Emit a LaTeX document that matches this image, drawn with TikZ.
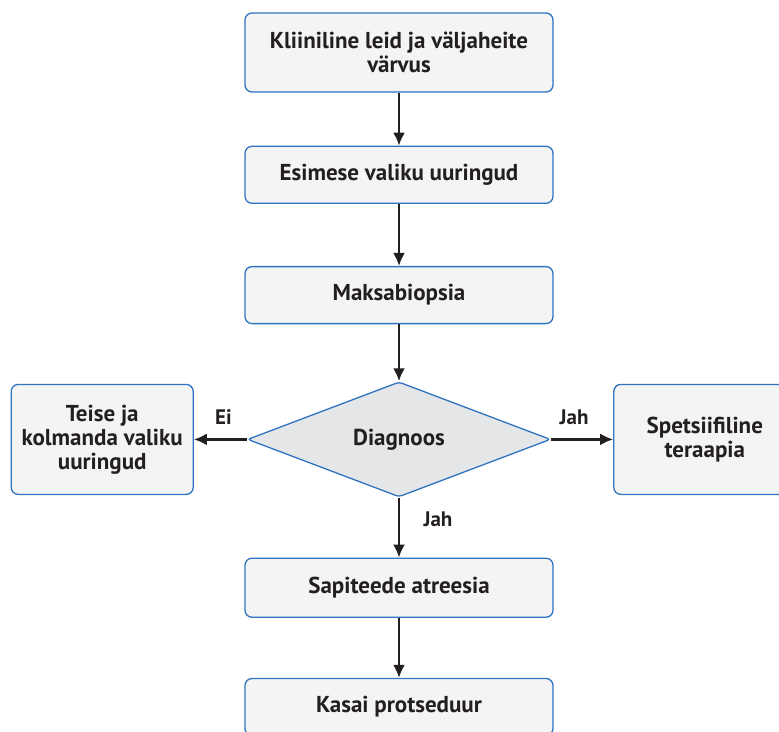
\documentclass[tikz,border=0pt]{standalone}
\usepackage{fontspec}
\setmainfont{PT Sans}
\usepackage{xcolor}
\usetikzlibrary{arrows.meta,positioning,shapes.geometric}

\definecolor{boxblue}{HTML}{2F74C0}
\definecolor{boxgray}{HTML}{F4F4F5}
\definecolor{diagray}{HTML}{E5E6E8}
\definecolor{ink}{HTML}{231F20}

\begin{document}
\begin{tikzpicture}[
    x=1pt,y=1pt,
    node distance=58pt,
    every node/.style={text=ink,font=\fontsize{23}{24}\selectfont\bfseries},
    box/.style={draw=boxblue,line width=1.3pt,fill=boxgray,rounded corners=7pt,
                align=center,minimum width=308pt,minimum height=57pt},
    side/.style={box,minimum width=182pt,minimum height=110pt},
    dec/.style={diamond,draw=boxblue,line width=1.3pt,fill=diagray,
                rounded corners=3pt,inner sep=0pt,
                minimum width=303pt,minimum height=115pt},
    lbl/.style={font=\fontsize{21}{22}\selectfont\bfseries},
    arr/.style={-{Latex[length=13pt,width=12pt]},line width=2.4pt,draw=ink}
  ]
  \useasboundingbox (0,0) rectangle (779,-731);

  \node[box,minimum height=79pt] (clin) at (399,-52.5)
        {Kliiniline leid ja väljaheite\\värvus};
  \node[box,below=53pt of clin] (first) {Esimese valiku uuringud};
  \node[box,below=62pt of first] (biop) {Maksabiopsia};
  \node[dec,below=57pt of biop] (diag) {Diagnoos};
  \node[side,left=53pt of diag] (more) {Teise ja\\kolmanda valiku\\uuringud};
  \node[side,right=62pt of diag] (ther) {Spetsiifiline\\teraapia};
  \node[box,below=60pt of diag,minimum height=59pt] (atr) {Sapiteede atreesia};
  \node[box,below=60pt of atr] (kasai) {Kasai protseduur};

  \draw[arr] (clin) -- (first);
  \draw[arr] (first) -- (biop);
  \draw[arr] (biop) -- (diag);
  \draw[arr] (diag) -- node[lbl,above=10pt,xshift=3pt]{Ei} (more);
  \draw[arr] (diag) -- node[lbl,above=10pt,xshift=-8pt]{Jah} (ther);
  \draw[arr] (diag) -- node[lbl,right=20pt,yshift=8pt]{Jah} (atr);
  \draw[arr] (atr) -- (kasai);
\end{tikzpicture}
\end{document}
